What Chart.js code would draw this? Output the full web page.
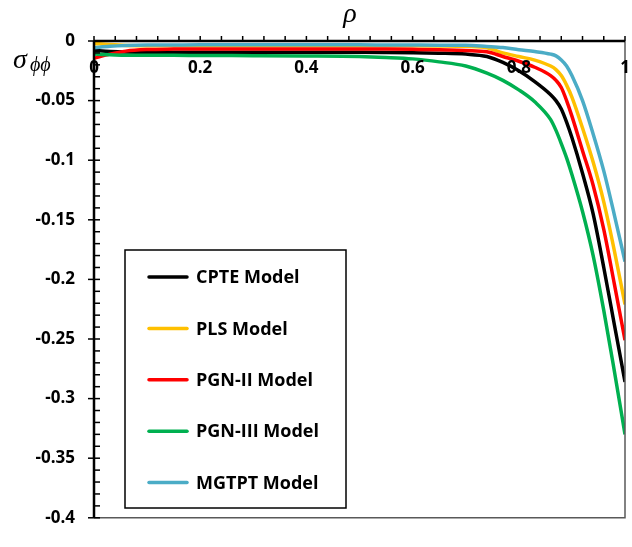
<!DOCTYPE html>
<html>
<head>
<meta charset="utf-8">
<script src="https://cdn.jsdelivr.net/npm/chart.js@4.4.1/dist/chart.umd.min.js"></script>
<style>
  html, body { margin: 0; padding: 0; background: #fff; }
  canvas { display: block; }
</style>
</head>
<body>
<canvas id="chart" width="632" height="547"></canvas>
<script>
"use strict";

const RHO = [0, 0.03, 0.06, 0.1, 0.15, 0.2, 0.3, 0.4, 0.5, 0.55, 0.6, 0.65, 0.7,
  0.74, 0.77, 0.8, 0.83, 0.86, 0.87, 0.88, 0.89, 0.9, 0.92, 0.94, 0.96, 0.98, 1];

const CPTE = [-0.008, -0.0088, -0.0093, -0.0095, -0.0095, -0.0095, -0.0095, -0.0095,
  -0.0095, -0.0096, -0.0098, -0.0102, -0.011, -0.013, -0.018, -0.025, -0.034, -0.045,
  -0.05, -0.057, -0.068, -0.081, -0.111, -0.145, -0.19, -0.238, -0.286];
const PLS = [-0.002, -0.003, -0.0037, -0.004, -0.004, -0.004, -0.004, -0.004,
  -0.004, -0.004, -0.004, -0.0041, -0.0045, -0.0057, -0.01, -0.013, -0.016, -0.021,
  -0.024, -0.029, -0.037, -0.047, -0.073, -0.1016, -0.135, -0.176, -0.221];
const PGN2 = [-0.0145, -0.011, -0.0085, -0.0072, -0.0068, -0.0067, -0.0067, -0.0067,
  -0.0067, -0.0068, -0.007, -0.0073, -0.008, -0.009, -0.013, -0.017, -0.022, -0.029,
  -0.033, -0.039, -0.05, -0.063, -0.092, -0.121, -0.158, -0.204, -0.251];
const PGN3 = [-0.011, -0.0115, -0.012, -0.012, -0.012, -0.0122, -0.0123, -0.0125,
  -0.013, -0.0138, -0.015, -0.0175, -0.021, -0.027, -0.033, -0.041, -0.051, -0.066,
  -0.075, -0.086, -0.098, -0.112, -0.143, -0.18, -0.226, -0.277, -0.33];
const MGTPT = [-0.0057, -0.0045, -0.0038, -0.0034, -0.0033, -0.0032, -0.0032, -0.0032,
  -0.0032, -0.0033, -0.0034, -0.0035, -0.0036, -0.0046, -0.0055, -0.0073, -0.0088, -0.011,
  -0.0125, -0.016, -0.021, -0.029, -0.05, -0.078, -0.109, -0.146, -0.185];

const NAMES = ["CPTE Model", "PLS Model", "PGN-II Model", "PGN-III Model", "MGTPT Model"];
const COLORS = ["#000000", "#FFC000", "#FF0000", "#00B050", "#4BACC6"];

const X_LABELS = [0, 0.2, 0.4, 0.6, 0.8, 1];
const X_MINOR_STEP = 0.04;
const Y_MINOR_STEP = 0.01;

const FONT = '"Open Sans", "Liberation Sans", sans-serif';

function toPoints(ys) {
  return RHO.map((x, i) => ({ x: x, y: ys[i] }));
}

const decorations = {
  id: "decorations",
  afterDatasetsDraw(chart) {
    const ctx = chart.ctx;
    const area = chart.chartArea;
    const xs = chart.scales.x;
    const ys = chart.scales.y;
    ctx.save();

    // plot area border (right + bottom)
    ctx.strokeStyle = "#595959";
    ctx.lineWidth = 1.5;
    ctx.beginPath();
    ctx.moveTo(area.right, area.top);
    ctx.lineTo(area.right, area.bottom);
    ctx.lineTo(area.left, area.bottom);
    ctx.stroke();

    // x axis (at y = 0, on top)
    ctx.strokeStyle = "#000";
    ctx.lineWidth = 1.5;
    for (let i = 0; i <= 25; i++) {
      const px = xs.getPixelForValue(i * X_MINOR_STEP);
      ctx.beginPath();
      ctx.moveTo(px, area.top - 5);
      ctx.lineTo(px, area.top);
      ctx.stroke();
    }
    // y ticks
    for (let i = 0; i <= 40; i++) {
      const py = ys.getPixelForValue(-i * Y_MINOR_STEP);
      ctx.beginPath();
      ctx.moveTo(i % 5 === 0 ? area.left - 6 : area.left, py);
      ctx.lineTo(area.left + 6, py);
      ctx.stroke();
    }
    ctx.lineWidth = 2.5;
    ctx.beginPath();
    ctx.moveTo(area.left, area.top);
    ctx.lineTo(area.right, area.top);
    ctx.moveTo(area.left, area.top);
    ctx.lineTo(area.left, area.bottom);
    ctx.stroke();

    // x tick labels, below the axis line
    ctx.fillStyle = "#000";
    ctx.font = "bold 17px " + FONT;
    ctx.textAlign = "center";
    ctx.textBaseline = "middle";
    X_LABELS.forEach((v) => {
      ctx.fillText(String(v), xs.getPixelForValue(v), area.top + 27);
    });

    // axis titles
    ctx.textAlign = "center";
    ctx.textBaseline = "alphabetic";
    ctx.font = 'italic 28px "Liberation Serif", serif';
    ctx.fillText("\u03C1", 350, 22);
    ctx.textAlign = "left";
    ctx.fillText("\u03C3", 13, 68);
    ctx.font = 'italic 20px "Liberation Serif", serif';
    ctx.fillText("\u03D5\u03D5", 30, 71);

    // legend box
    const lx = 125, ly = 250, lw = 221, lh = 258;
    ctx.fillStyle = "#fff";
    ctx.fillRect(lx, ly, lw, lh);
    ctx.strokeStyle = "#000";
    ctx.lineWidth = 1.5;
    ctx.strokeRect(lx, ly, lw, lh);
    ctx.font = "bold 18px " + FONT;
    ctx.textBaseline = "middle";
    ctx.textAlign = "left";
    chart.data.datasets.forEach((ds, i) => {
      const cy = ly + 27 + i * 51.4;
      ctx.strokeStyle = ds.borderColor;
      ctx.lineWidth = 3.5;
      ctx.lineCap = "round";
      ctx.beginPath();
      ctx.moveTo(lx + 24, cy);
      ctx.lineTo(lx + 62, cy);
      ctx.stroke();
      ctx.fillStyle = "#000";
      ctx.fillText(ds.label, lx + 71, cy + 1);
    });
    ctx.restore();
  },
};

const seriesValues = [CPTE, PLS, PGN2, PGN3, MGTPT];

new Chart(document.getElementById("chart"), {
  type: "line",
  data: {
    datasets: seriesValues.map((vals, i) => ({
      label: NAMES[i],
      data: toPoints(vals),
      borderColor: COLORS[i],
      borderWidth: 3.5,
      pointRadius: 0,
      fill: false,
      cubicInterpolationMode: "monotone",
      order: seriesValues.length - i,
    })),
  },
  options: {
    responsive: false,
    animation: false,
    layout: { padding: { top: 0, left: 0, right: 7, bottom: 11 } },
    plugins: { legend: { display: false }, tooltip: { enabled: false } },
    scales: {
      x: {
        type: "linear",
        position: "top",
        min: 0,
        max: 1,
        grid: { display: false, drawTicks: false },
        border: { display: false },
        ticks: { display: false },
        afterFit(scale) { scale.height = 41; },
      },
      y: {
        type: "linear",
        min: -0.4,
        max: 0,
        grid: { display: false, drawTicks: false },
        border: { display: false },
        ticks: {
          stepSize: 0.05,
          padding: 19,
          color: "#000",
          font: { family: FONT, size: 17, weight: "bold" },
          callback: (v) => String(Math.round(v * 100) / 100 || 0),
        },
        afterFit(scale) { scale.width = 94; },
      },
    },
  },
  plugins: [decorations],
});
</script>
</body>
</html>
